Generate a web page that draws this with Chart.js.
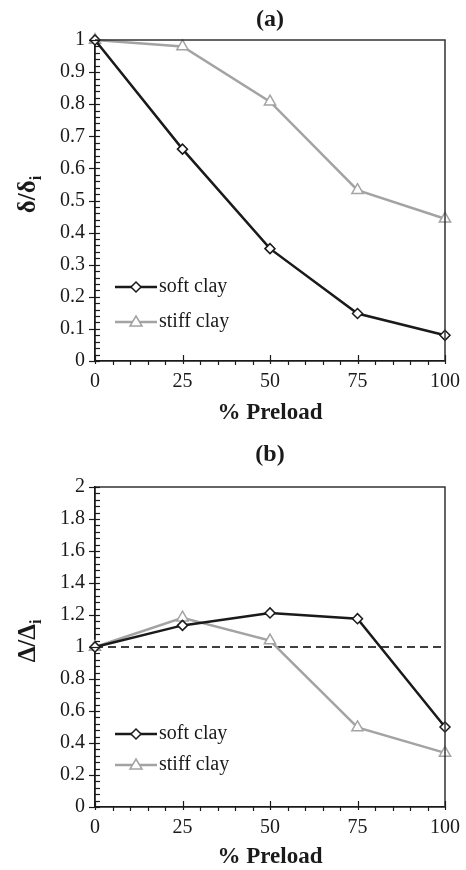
<!DOCTYPE html>
<html>
<head>
<meta charset="utf-8">
<script src="https://cdn.jsdelivr.net/npm/chart.js@4/dist/chart.umd.min.js"></script>
<style>
  body { margin: 0; background: #fff; }
  .panel { position: absolute; left: 0; width: 466px; }
</style>
</head>
<body>
<div class="panel" style="top:0"><canvas id="chartA" width="466" height="435"></canvas></div>
<div class="panel" style="top:435px"><canvas id="chartB" width="466" height="435"></canvas></div>
<script>
// values
const preload = [0, 25, 50, 75, 100];
const softA = [1.0, 0.66, 0.35, 0.148, 0.08];
const stiffA = [1.0, 0.98, 0.808, 0.532, 0.443];
const softB = [1.0, 1.135, 1.213, 1.177, 0.5];
const stiffB = [1.0, 1.183, 1.04, 0.497, 0.338];
const refB = [1, 1, 1, 1, 1];
const seriesNames = ["soft clay", "stiff clay"];

const SERIF = "'Liberation Serif', 'Times New Roman', serif";
const GRAY = "#a3a3a3";
const INK = "#1a1a1a";

function pts(ys) {
  return preload.map(function(x, i) { return { x: x, y: ys[i] }; });
}

// box, minor ticks, legend and y title
const decor = {
  id: "decor",
  afterDraw: function(chart, args, o) {
    const ctx = chart.ctx;
    const a = chart.chartArea;
    const xs = chart.scales.x, ys = chart.scales.y;
    ctx.save();
    ctx.strokeStyle = "#333";
    ctx.lineWidth = 1.5;
    ctx.beginPath();
    ctx.moveTo(a.left, a.top); ctx.lineTo(a.right, a.top); ctx.lineTo(a.right, a.bottom);
    ctx.stroke();

    ctx.strokeStyle = INK;
    ctx.lineWidth = 1.2;
    // y ticks
    const n = Math.round((ys.max - ys.min) / o.yMinor);
    for (let i = 0; i <= n; i++) {
      const py = Math.round(ys.getPixelForValue(ys.min + i * o.yMinor)) + 0.5;
      const major = i % o.yPer === 0;
      ctx.beginPath();
      ctx.moveTo(major ? a.left - 6 : a.left, py);
      ctx.lineTo(a.left + 5, py);
      ctx.stroke();
    }
    // x ticks
    for (let v = 0; v <= 100; v += 5) {
      const px = Math.round(xs.getPixelForValue(v)) + 0.5;
      const major = v % 25 === 0;
      ctx.beginPath();
      if (major) { ctx.moveTo(px, a.bottom - 6); ctx.lineTo(px, a.bottom + 3); }
      else { ctx.moveTo(px, a.bottom); ctx.lineTo(px, a.bottom + 4); }
      ctx.stroke();
    }

    // legend
    const items = [
      { color: INK, marker: "diamond", y: o.legendY[0] },
      { color: GRAY, marker: "triangle", y: o.legendY[1] }
    ];
    items.forEach(function(it, k) {
      const x0 = a.left + o.legendX, x1 = x0 + 42, cx = (x0 + x1) / 2;
      ctx.strokeStyle = it.color;
      ctx.lineWidth = 2.5;
      ctx.beginPath(); ctx.moveTo(x0, it.y); ctx.lineTo(x1, it.y); ctx.stroke();
      ctx.fillStyle = "#fff";
      ctx.lineWidth = 1.5;
      ctx.beginPath();
      if (it.marker === "diamond") {
        ctx.moveTo(cx, it.y - 5); ctx.lineTo(cx + 5, it.y); ctx.lineTo(cx, it.y + 5); ctx.lineTo(cx - 5, it.y);
      } else {
        ctx.moveTo(cx, it.y - 6); ctx.lineTo(cx + 6, it.y + 4); ctx.lineTo(cx - 6, it.y + 4);
      }
      ctx.closePath(); ctx.fill(); ctx.stroke();
      ctx.fillStyle = INK;
      ctx.font = "20px " + SERIF;
      ctx.textBaseline = "middle";
      ctx.textAlign = "left";
      ctx.fillText(seriesNames[k], x1 + 2, it.y);
    });

    // y axis title with subscript
    ctx.translate(27, (a.top + a.bottom) / 2 - 6);
    ctx.rotate(-Math.PI / 2);
    ctx.fillStyle = INK;
    ctx.font = "bold 25px " + SERIF;
    const mainW = ctx.measureText(o.yTitle).width;
    ctx.font = "bold 16px " + SERIF;
    const subW = ctx.measureText("i").width;
    const start = -(mainW + subW) / 2;
    ctx.textBaseline = "alphabetic";
    ctx.textAlign = "left";
    ctx.font = "bold 25px " + SERIF;
    ctx.fillText(o.yTitle, start, 8);
    ctx.font = "bold 16px " + SERIF;
    ctx.fillText("i", start + mainW, 14);
    ctx.restore();
  }
};

function makeChart(id, title, soft, stiff, ref, yMax, yStep, yMinor, yTitle, xTitlePad, xHeight, titleBottomPad, legendY) {
  const datasets = [
    {
      data: pts(soft), borderColor: INK, borderWidth: 2.5,
      pointStyle: "rectRot", pointRadius: 5, pointBackgroundColor: "#fff",
      pointBorderColor: INK, pointBorderWidth: 1.5, clip: false, order: 1
    },
    {
      data: pts(stiff), borderColor: GRAY, borderWidth: 2.5,
      pointStyle: "triangle", pointRadius: 6.5, pointBackgroundColor: "#fff",
      pointBorderColor: GRAY, pointBorderWidth: 1.5, clip: false, order: 2
    }
  ];
  if (ref) {
    datasets.push({
      data: pts(ref), borderColor: "#000", borderWidth: 1.5, borderDash: [8, 5],
      pointRadius: 0, clip: false, order: 3
    });
  }
  return new Chart(document.getElementById(id).getContext("2d"), {
    type: "line",
    data: { datasets: datasets },
    options: {
      responsive: false,
      animation: false,
      devicePixelRatio: 1,
      layout: { padding: { left: 0, right: 21, top: 0, bottom: 0 } },
      plugins: {
        legend: { display: false },
        tooltip: { enabled: false },
        title: {
          display: true, text: title, fullSize: false, color: INK,
          font: { family: SERIF, size: 24, weight: "bold", lineHeight: 1 },
          padding: { top: 8, bottom: titleBottomPad }
        },
        decor: { yMinor: yMinor, yPer: Math.round(yStep / yMinor), yTitle: yTitle, legendX: 20, legendY: legendY }
      },
      scales: {
        x: {
          type: "linear", min: 0, max: 100,
          grid: { display: false, drawTicks: false },
          border: { display: true, color: INK, width: 1.8 },
          ticks: { stepSize: 25, padding: 11, color: INK, font: { family: SERIF, size: 20, lineHeight: 1 } },
          title: {
            display: true, text: "% Preload", color: INK,
            font: { family: SERIF, size: 23, weight: "bold", lineHeight: 1 },
            padding: { top: 0, bottom: xTitlePad }
          },
          afterFit: function(s) { s.height = xHeight; s.paddingLeft = 0; s.paddingRight = 0; }
        },
        y: {
          type: "linear", min: 0, max: yMax,
          grid: { display: false, drawTicks: false },
          border: { display: true, color: INK, width: 1.8 },
          ticks: {
            stepSize: yStep, padding: 10, color: INK, font: { family: SERIF, size: 20 },
            callback: function(v) { return String(+v.toFixed(2)); }
          },
          afterFit: function(s) { s.width = 95; s.paddingTop = 0; s.paddingBottom = 0; }
        }
      }
    },
    plugins: [decor]
  });
}

makeChart("chartA", "(a)", softA, stiffA, null, 1, 0.1, 0.02, "\u03b4/\u03b4", 10, 74, 8, [287, 322]);
makeChart("chartB", "(b)", softB, stiffB, refB, 2, 0.2, 0.04, "\u0394/\u0394", 1, 63, 20, [299, 330]);
</script>
</body>
</html>
